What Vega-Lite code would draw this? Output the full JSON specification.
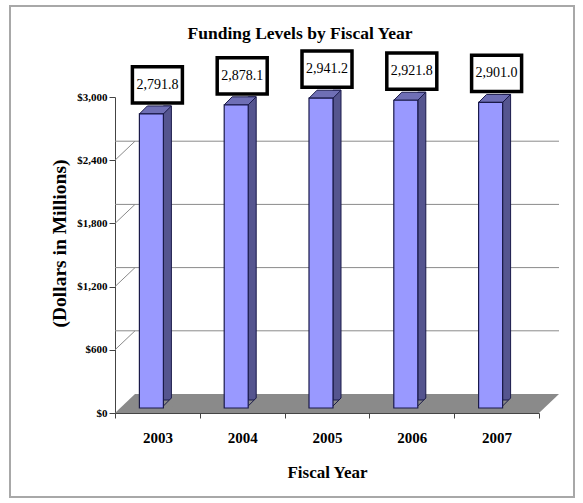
{
  "$schema": "https://vega.github.io/schema/vega-lite/v6.json",
  "autosize": "none",
  "width": 424,
  "height": 316,
  "padding": {"left": 115, "top": 97, "right": 44, "bottom": 90},
  "background": "white",
  "title": {
    "text": "Funding Levels by Fiscal Year",
    "font": "Liberation Serif",
    "fontSize": 17.5,
    "fontWeight": "bold",
    "color": "black",
    "frame": "group",
    "anchor": "middle",
    "baseline": "alphabetic",
    "offset": -55,
    "dx": -27
  },
  "datasets": {
    "funding": [
      {"year": "2003", "value": 2791.8},
      {"year": "2004", "value": 2878.1},
      {"year": "2005", "value": 2941.2},
      {"year": "2006", "value": 2921.8},
      {"year": "2007", "value": 2901.0}
    ],
    "grid": [{"g": 600}, {"g": 1200}, {"g": 1800}, {"g": 2400}],
    "one": [{"k": 1}]
  },
  "encoding": {
    "x": {
      "field": "year",
      "type": "nominal",
      "scale": {"paddingInner": 0, "paddingOuter": 0},
      "axis": {
        "title": "Fiscal Year",
        "labelAngle": 0,
        "tickBand": "extent",
        "labelFont": "Liberation Serif",
        "labelFontSize": 15,
        "labelFontWeight": "bold",
        "labelColor": "black",
        "labelPadding": 12,
        "tickSize": 5,
        "tickColor": "#444",
        "domainColor": "#444",
        "titleFont": "Liberation Serif",
        "titleFontSize": 17,
        "titleFontWeight": "bold",
        "titleColor": "black",
        "titlePadding": 19
      }
    }
  },
  "layer": [
    {
      "data": {"name": "one"},
      "mark": {"type": "point", "filled": false, "opacity": 1, "stroke": "#a8a8a8", "strokeWidth": 2, "size": 318096, "xOffset": -35, "yOffset": -3.5,
        "shape": "M-1,-0.8706L1,-0.8706L1,0.8706L-1,0.8706Z"},
      "encoding": {"x": null, "y": {"datum": 1500, "type": "quantitative"}}
    },
    {
      "data": {"name": "one"},
      "mark": {"type": "point", "filled": true, "opacity": 1, "color": "#8a8a8a", "strokeWidth": 0, "size": 197136, "xOffset": 10, "yOffset": -9.5,
        "shape": "M-1,0.0428L0.91,0.0428L1,-0.0428L-0.91,-0.0428Z"},
      "encoding": {"x": null, "y": {"datum": 0, "type": "quantitative"}}
    },
    {
      "data": {"name": "grid"},
      "mark": {"type": "rule", "color": "#8a8a8a", "strokeWidth": 1, "xOffset": 20, "x2Offset": 20, "yOffset": -19},
      "encoding": {"x": null, "y": {"field": "g", "type": "quantitative"}}
    },
    {
      "data": {"name": "grid"},
      "mark": {"type": "point", "filled": false, "opacity": 1, "stroke": "#8a8a8a", "strokeWidth": 1, "size": 400,
        "shape": "M-21.2,0L-19.2,-1.9"},
      "encoding": {"x": null, "y": {"field": "g", "type": "quantitative"}}
    },
    {
      "data": {"name": "funding"},
      "mark": {"type": "bar", "width": 8, "xOffset": 10, "yOffset": -13, "y2Offset": -7, "color": "#55558f", "stroke": "#1a1a4a", "strokeWidth": 1},
      "encoding": {
        "y": {
          "field": "value",
          "type": "quantitative",
          "scale": {"domain": [0, 3000], "nice": false},
          "axis": {
            "title": "(Dollars in Millions)",
            "values": [0, 600, 1200, 1800, 2400, 3000],
            "format": "$,.0f",
            "grid": false,
            "labelFont": "Liberation Serif",
            "labelFontSize": 11,
            "labelFontWeight": "bold",
            "labelColor": "black",
            "labelPadding": 2,
            "tickSize": 6,
            "tickColor": "#444",
            "domainColor": "#444",
            "titleFont": "Liberation Serif",
            "titleFontSize": 19.5,
            "titleFontWeight": "bold",
            "titleColor": "black",
            "titleAngle": 270,
            "titleBaseline": "bottom",
            "titleAlign": "center",
            "titleX": -46,
            "titleY": 146
          }
        }
      }
    },
    {
      "data": {"name": "funding"},
      "mark": {"type": "point", "filled": true, "opacity": 1, "color": "#8a8a8a", "strokeWidth": 0, "size": 100, "xOffset": -6, "yOffset": -7,
        "shape": "M2.4,0L4,-1.6L4.3,-1.6L4.3,0.3L2.4,0.3Z"},
      "encoding": {"y": {"datum": 0, "type": "quantitative"}}
    },
    {
      "data": {"name": "funding"},
      "mark": {"type": "point", "filled": false, "opacity": 1, "stroke": "#1a1a4a", "strokeWidth": 1, "size": 100, "xOffset": -6, "yOffset": -7,
        "shape": "M2.4,0L4,-1.6"},
      "encoding": {"y": {"datum": 0, "type": "quantitative"}}
    },
    {
      "data": {"name": "funding"},
      "mark": {"type": "point", "filled": true, "opacity": 1, "color": "#6f6fb5", "stroke": "#1a1a4a", "strokeWidth": 1, "size": 100, "xOffset": -6, "yOffset": -5,
        "shape": "M-2.4,0L2.4,0L4,-1.6L-0.8,-1.6Z"},
      "encoding": {"y": {"field": "value", "type": "quantitative"}}
    },
    {
      "data": {"name": "funding"},
      "mark": {"type": "bar", "width": 24, "xOffset": -6, "yOffset": -5, "y2Offset": -7, "color": "#9999ff", "stroke": "#1a1a4a", "strokeWidth": 1.2},
      "encoding": {"y": {"field": "value", "type": "quantitative"}}
    },
    {
      "data": {"name": "funding"},
      "mark": {"type": "point", "filled": true, "opacity": 1, "color": "white", "stroke": "black", "strokeWidth": 3.5, "size": 625, "yOffset": -34,
        "shape": "M-2,-1.45L2,-1.45L2,1.45L-2,1.45Z"},
      "encoding": {"y": {"field": "value", "type": "quantitative"}}
    },
    {
      "data": {"name": "funding"},
      "mark": {"type": "text", "font": "Liberation Serif", "fontSize": 14, "color": "black", "baseline": "middle", "align": "center", "yOffset": -34},
      "encoding": {
        "y": {"field": "value", "type": "quantitative"},
        "text": {"field": "value", "type": "quantitative", "format": ",.1f"}
      }
    }
  ],
  "config": {
    "view": {"stroke": null},
    "font": "Liberation Serif"
  }
}
